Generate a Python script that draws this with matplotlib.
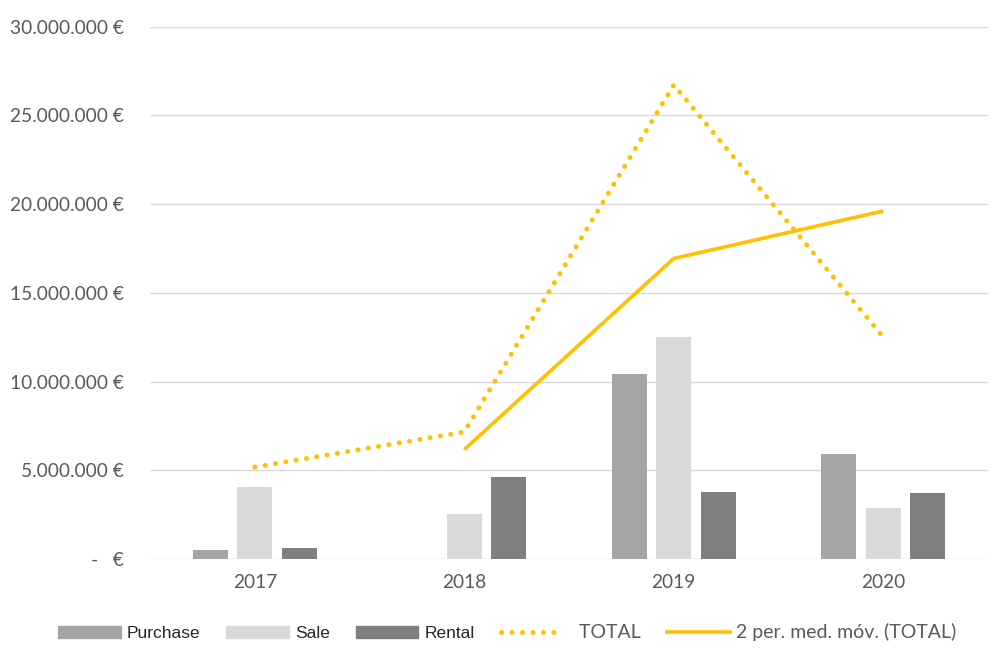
import matplotlib.pyplot as plt
from matplotlib.patches import Patch
from matplotlib.lines import Line2D
import matplotlib.ticker as mticker
import numpy as np

years = ['2017', '2018', '2019', '2020']
purchase = [0.50e6, 0.0, 10.43e6, 5.92e6]
sale = [4.06e6, 2.54e6, 12.51e6, 2.87e6]
rental = [0.62e6, 4.62e6, 3.78e6, 3.72e6]
total = [p + s + r for p, s, r in zip(purchase, sale, rental)]
moving_avg = [(total[i - 1] + total[i]) / 2 for i in range(1, len(total))]

C_PURCHASE = '#A5A5A5'
C_SALE = '#D9D9D9'
C_RENTAL = '#7F7F7F'
C_YELLOW = '#FFC000'
C_TEXT = '#595959'


def euro_fmt(v, pos):
    if v == 0:
        return '-   €'
    return '{:,.0f} €'.format(v).replace(',', '.')


fig = plt.figure(figsize=(10, 6.53), dpi=100)
ax = fig.add_axes([0.15, 0.144, 0.838, 0.815])

x = np.arange(len(years))
w = 0.167
step = 0.212
ax.bar(x - step, purchase, w, color=C_PURCHASE, zorder=2)
ax.bar(x, sale, w, color=C_SALE, zorder=2)
ax.bar(x + step, rental, w, color=C_RENTAL, zorder=2)

ax.plot(x, total, color=C_YELLOW, lw=3.5, linestyle=(0, (0.05, 2.1)),
        dash_capstyle='round', zorder=3)
ax.plot(x[1:], moving_avg, color=C_YELLOW, lw=2.6, zorder=3,
        solid_capstyle='butt')

ax.set_xlim(-0.5, 3.5)
ax.set_ylim(0, 30e6)
ax.set_yticks(np.arange(0, 30e6 + 1, 5e6))
ax.yaxis.set_major_formatter(mticker.FuncFormatter(euro_fmt))
ax.set_xticks(x)
ax.set_xticklabels(years)
ax.grid(axis='y', color='#D9D9D9', lw=1, zorder=0)
for s in ['top', 'right', 'left', 'bottom']:
    ax.spines[s].set_visible(False)
ax.tick_params(length=0, labelsize=13.8, colors=C_TEXT)
ax.tick_params(axis='y', pad=19)
ax.tick_params(axis='x', pad=11)
for lbl in ax.get_yticklabels() + ax.get_xticklabels():
    lbl.set_family('Lato')

handles = [
    Patch(color=C_PURCHASE, label='Purchase'),
    Patch(color=C_SALE, label='Sale'),
    Patch(color=C_RENTAL, label='Rental'),
    Line2D([], [], color=C_YELLOW, lw=3.5, linestyle=(0, (0.05, 2.1)),
           dash_capstyle='round', label='  TOTAL'),
    Line2D([], [], color=C_YELLOW, lw=2.6, label='2 per. med. móv. (TOTAL)'),
]
leg = fig.legend(handles=handles, loc='center', bbox_to_anchor=(0.507, 0.032),
                 ncol=5, frameon=False, handlelength=3.6, handleheight=0.75,
                 handletextpad=0.35, columnspacing=1.5, fontsize=12.5)
for i, t in enumerate(leg.get_texts()):
    t.set_color('#262626' if i < 3 else C_TEXT)
    t.set_family('Liberation Sans' if i < 3 else 'Lato')
    if i >= 3:
        t.set_fontsize(14)

fig.savefig('out.png', dpi=100)
